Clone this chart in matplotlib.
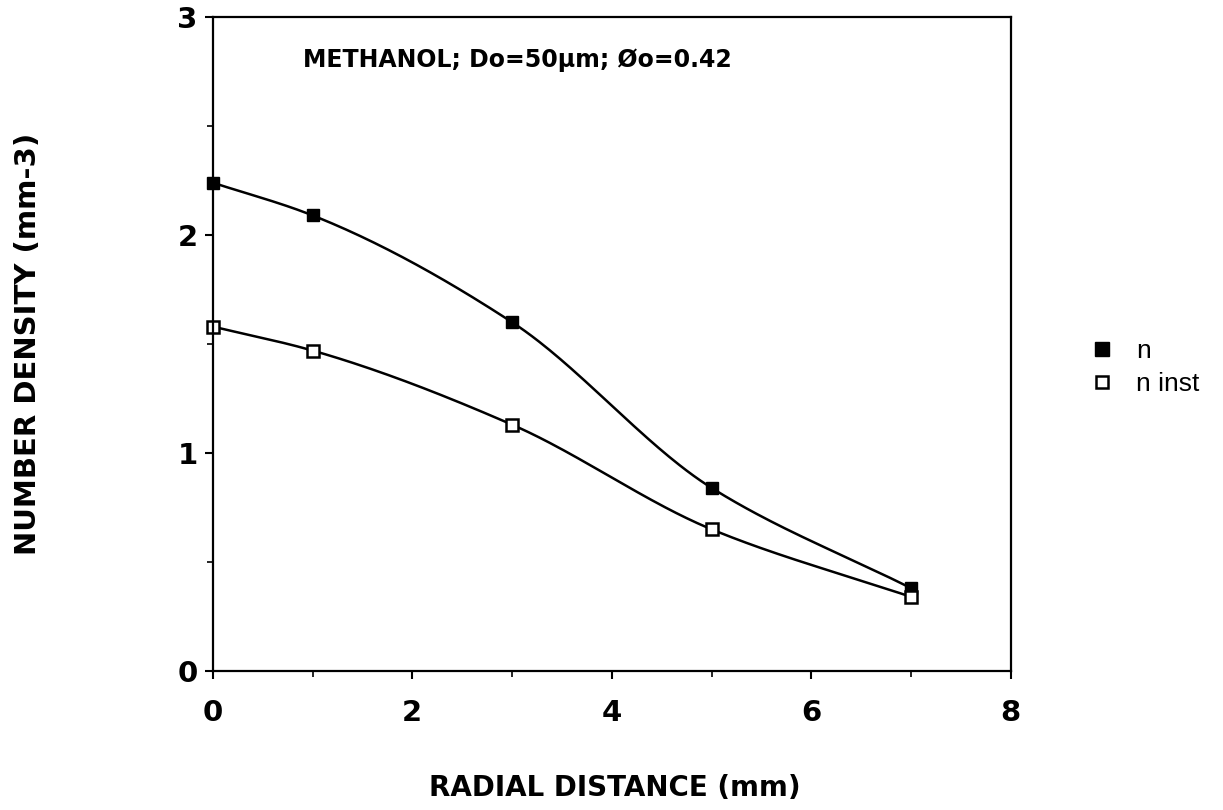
import numpy as np
import matplotlib.pyplot as plt
from matplotlib.ticker import MultipleLocator

# Mesures : densité numérique en fonction de la distance radiale
radial_mm = [0, 1, 3, 5, 7]
n_values = [2.24, 2.09, 1.60, 0.84, 0.38]
n_inst_values = [1.58, 1.47, 1.13, 0.65, 0.34]

title_text = "METHANOL; Do=50\u00b5m; \u00d8o=0.42"


def smooth_curve(x, y, pts=200):
    # Spline monotone (PCHIP) pour relier les points
    x = np.asarray(x, float)
    y = np.asarray(y, float)
    h = np.diff(x)
    delta = np.diff(y) / h
    d = np.zeros_like(y)
    for k in range(1, len(x) - 1):
        if delta[k - 1] * delta[k] > 0:
            w1 = 2 * h[k] + h[k - 1]
            w2 = h[k] + 2 * h[k - 1]
            d[k] = (w1 + w2) / (w1 / delta[k - 1] + w2 / delta[k])
    d[0] = delta[0]
    d[-1] = delta[-1]
    xs = np.linspace(x[0], x[-1], pts)
    idx = np.clip(np.searchsorted(x, xs) - 1, 0, len(x) - 2)
    t = (xs - x[idx]) / h[idx]
    h00 = 2 * t**3 - 3 * t**2 + 1
    h10 = t**3 - 2 * t**2 + t
    h01 = -2 * t**3 + 3 * t**2
    h11 = t**3 - t**2
    ys = h00 * y[idx] + h10 * h[idx] * d[idx] + h01 * y[idx + 1] + h11 * h[idx] * d[idx + 1]
    return xs, ys


fig = plt.figure(figsize=(12.23, 8.10), dpi=100)
ax = fig.add_axes([0.174, 0.1716, 0.6525, 0.8074])

xs, ys = smooth_curve(radial_mm, n_values)
ax.plot(xs, ys, color='black', lw=1.8)
xs, ys = smooth_curve(radial_mm, n_inst_values)
ax.plot(xs, ys, color='black', lw=1.8)

ax.plot(radial_mm, n_values, ls='none', marker='s', ms=8.6, mfc='black', mec='black', label='n', clip_on=False)
ax.plot(radial_mm, n_inst_values, ls='none', marker='s', ms=8, mfc='white', mec='black', mew=1.8,
        label='n inst', clip_on=False)

ax.set_xlim(0, 8)
ax.set_ylim(0, 3)
ax.xaxis.set_major_locator(MultipleLocator(2))
ax.xaxis.set_minor_locator(MultipleLocator(1))
ax.yaxis.set_major_locator(MultipleLocator(1))
ax.yaxis.set_minor_locator(MultipleLocator(0.5))
ax.tick_params(which='major', direction='out', length=6, width=1.5, labelsize=21)
ax.tick_params(axis='x', which='major', pad=14)
ax.tick_params(axis='y', which='major', pad=5)
ax.tick_params(which='minor', direction='out', length=4, width=1.2)
for lab in ax.get_xticklabels() + ax.get_yticklabels():
    lab.set_fontweight('bold')
for sp in ax.spines.values():
    sp.set_linewidth(1.6)

ax.set_xlabel('RADIAL DISTANCE (mm)', fontsize=20, fontweight='bold')
ax.xaxis.set_label_coords(0.504, -0.158)
ax.set_ylabel('NUMBER DENSITY (mm-3)', fontsize=21, fontweight='bold')
ax.yaxis.set_label_coords(-0.214, 0.5)

ax.text(0.113, 0.934, title_text, transform=ax.transAxes, fontsize=17, fontweight='bold',
        ha='left', va='center')

fig.legend(loc='center left', bbox_to_anchor=(0.889, 0.546), frameon=False,
           prop={'family': 'Liberation Sans', 'size': 19}, borderpad=0, borderaxespad=0,
           handlelength=1.1, handletextpad=0.75, labelspacing=0.35, markerscale=1.1)

plt.savefig('out.png', dpi=100)
